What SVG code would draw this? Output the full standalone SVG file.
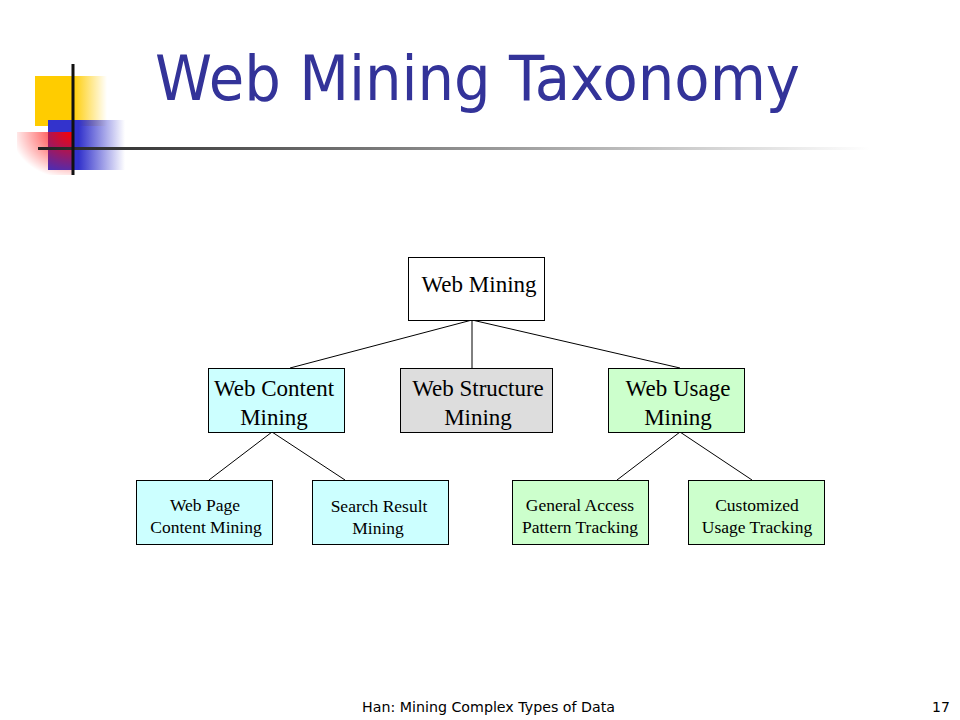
<svg xmlns="http://www.w3.org/2000/svg" width="960" height="720" viewBox="0 0 960 720">
<defs>
<linearGradient id="gy" x1="0" y1="0" x2="1" y2="0">
<stop offset="0" stop-color="#FFCC00"/><stop offset="0.52" stop-color="#FFCC00"/><stop offset="1" stop-color="#FFCC00" stop-opacity="0"/>
</linearGradient>
<linearGradient id="gb" x1="0" y1="0" x2="1" y2="0">
<stop offset="0" stop-color="#3333CC"/><stop offset="0.4" stop-color="#3333CC"/><stop offset="1" stop-color="#3333CC" stop-opacity="0"/>
</linearGradient>
<radialGradient id="gr" cx="1" cy="0" r="1.1">
<stop offset="0" stop-color="#FF0000"/><stop offset="1" stop-color="#FF0000" stop-opacity="0"/>
</radialGradient>
<linearGradient id="gl" x1="0" y1="0" x2="1" y2="0">
<stop offset="0" stop-color="#222222"/><stop offset="0.4" stop-color="#777777"/><stop offset="1" stop-color="#FFFFFF"/>
</linearGradient>
</defs>
<style>
.box{stroke:#000;stroke-width:1}
.t1{font-family:"Liberation Serif","Times New Roman",serif;font-size:23px;fill:#000;text-anchor:middle}
.t2{font-family:"Liberation Serif","Times New Roman",serif;font-size:17.5px;fill:#000;text-anchor:middle}
.conn line{stroke:#000;stroke-width:1}
.sans{font-family:"DejaVu Sans","Liberation Sans",sans-serif}
</style>
<rect width="960" height="720" fill="#FFFFFF"/>
<g id="decor">
<rect x="35" y="76" width="72" height="50" fill="url(#gy)"/>
<rect x="48" y="120" width="77" height="50" fill="url(#gb)"/>
<rect x="17" y="132" width="56" height="43" fill="url(#gr)"/>
<rect x="38" y="147" width="832" height="3" fill="url(#gl)"/>
<rect x="71.5" y="64" width="3" height="111" fill="#111111"/>
</g>
<text id="title" class="sans" x="155" y="100" font-size="63" fill="#333399" textLength="645" lengthAdjust="spacingAndGlyphs">Web Mining Taxonomy</text>
<g id="connectors" class="conn">
<line x1="472" y1="320" x2="290" y2="368"/>
<line x1="472" y1="320" x2="472" y2="368"/>
<line x1="472" y1="320" x2="680" y2="368"/>
<line x1="272" y1="432" x2="209" y2="480"/>
<line x1="272" y1="432" x2="345" y2="480"/>
<line x1="680" y1="432" x2="617" y2="480"/>
<line x1="680" y1="432" x2="752" y2="480"/>
</g>
<g id="web-mining">
<rect class="box" x="408.5" y="257.5" width="136" height="63" fill="#FFFFFF"/>
<text class="t1" x="479" y="292">Web Mining</text>
</g>
<g id="web-content-mining">
<rect class="box" x="208.5" y="368.5" width="136" height="64" fill="#CCFFFF"/>
<text class="t1" x="274" y="396">Web Content</text>
<text class="t1" x="274" y="425">Mining</text>
</g>
<g id="web-structure-mining">
<rect class="box" x="400.5" y="368.5" width="152" height="64" fill="#DDDDDD"/>
<text class="t1" x="478" y="396">Web Structure</text>
<text class="t1" x="478" y="425">Mining</text>
</g>
<g id="web-usage-mining">
<rect class="box" x="608.5" y="368.5" width="136" height="64" fill="#CCFFCC"/>
<text class="t1" x="678" y="396">Web Usage</text>
<text class="t1" x="678" y="425">Mining</text>
</g>
<g id="web-page-content-mining">
<rect class="box" x="136.5" y="480.5" width="136" height="64" fill="#CCFFFF"/>
<text class="t2" x="205" y="511">Web Page</text>
<text class="t2" x="206" y="533">Content Mining</text>
</g>
<g id="search-result-mining">
<rect class="box" x="312.5" y="480.5" width="136" height="64" fill="#CCFFFF"/>
<text class="t2" x="379" y="512">Search Result</text>
<text class="t2" x="378" y="534">Mining</text>
</g>
<g id="general-access-pattern-tracking">
<rect class="box" x="512.5" y="480.5" width="136" height="64" fill="#CCFFCC"/>
<text class="t2" x="580" y="511">General Access</text>
<text class="t2" x="580" y="533">Pattern Tracking</text>
</g>
<g id="customized-usage-tracking">
<rect class="box" x="688.5" y="480.5" width="136" height="64" fill="#CCFFCC"/>
<text class="t2" x="757" y="511">Customized</text>
<text class="t2" x="757" y="533">Usage Tracking</text>
</g>
<text class="sans" x="362" y="712" font-size="14" fill="#000" textLength="253" lengthAdjust="spacingAndGlyphs">Han: Mining Complex Types of Data</text>
<text class="sans" x="932" y="712" font-size="14" fill="#000">17</text>
</svg>
